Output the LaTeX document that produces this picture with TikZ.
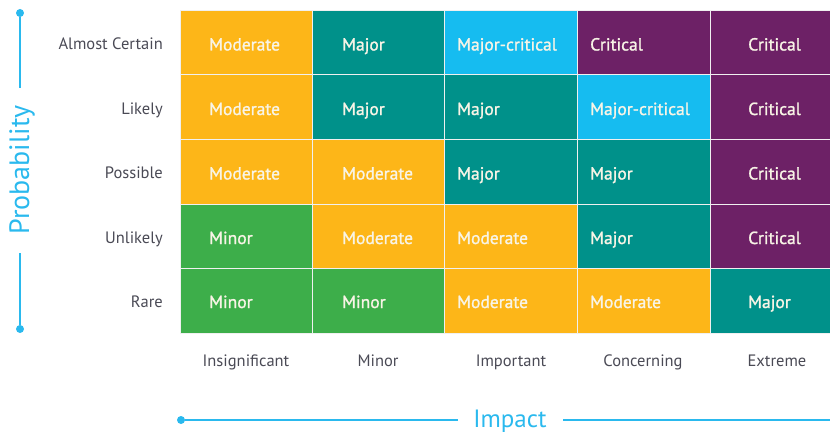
\documentclass[tikz,border=0pt]{standalone}
\usepackage{fontspec}
\setmainfont{PT Sans}
\newfontfamily\cellfont[FakeBold=1.3]{PT Sans}
\definecolor{corange}{HTML}{FDB618}
\definecolor{cteal}{HTML}{00918A}
\definecolor{ccyan}{HTML}{16BCF0}
\definecolor{cpurple}{HTML}{6D2166}
\definecolor{cgreen}{HTML}{3DAE4A}
\definecolor{caxis}{HTML}{2AB9EE}
\definecolor{clabel}{HTML}{4A4A55}
\definecolor{ctext}{HTML}{F8F4E6}
\tikzset{
  cell/.style={draw=white!88!gray, line width=1pt, minimum width=#1, minimum height=64.5pt, inner sep=0pt, anchor=north west},
  celltxt/.style={anchor=base west, inner sep=0pt, text=ctext, font=\cellfont\fontsize{17.5}{20}\selectfont},
  rowlab/.style={anchor=base east, inner sep=0pt, text=clabel, font=\fontsize{16.5}{20}\selectfont},
  collab/.style={anchor=base, inner sep=0pt, text=clabel, font=\fontsize{16.5}{20}\selectfont},
  axlab/.style={inner sep=0pt, text=caxis},
  axline/.style={draw=caxis, line width=2pt},
  axdot/.style={circle, fill=caxis, inner sep=0pt, minimum size=8pt}
}
\begin{document}
\begin{tikzpicture}[x=1pt,y=-1pt]
\useasboundingbox (0,0) rectangle (830,436);
\clip (0,0) rectangle (830,436);
% row 1
\node[cell=132pt, fill=corange] (c11) at (180,10) {};
\node[cell=132pt, fill=cteal]   (c12) at (312,10) {};
\node[cell=133pt, fill=ccyan]   (c13) at (444,10) {};
\node[cell=133pt, fill=cpurple] (c14) at (577,10) {};
\node[cell=133pt, fill=cpurple] (c15) at (710,10) {};
% row 2
\node[cell=132pt, fill=corange] (c21) at (180,74.5) {};
\node[cell=132pt, fill=cteal]   (c22) at (312,74.5) {};
\node[cell=133pt, fill=cteal]   (c23) at (444,74.5) {};
\node[cell=133pt, fill=ccyan]   (c24) at (577,74.5) {};
\node[cell=133pt, fill=cpurple] (c25) at (710,74.5) {};
% row 3
\node[cell=132pt, fill=corange] (c31) at (180,139) {};
\node[cell=132pt, fill=corange] (c32) at (312,139) {};
\node[cell=133pt, fill=cteal]   (c33) at (444,139) {};
\node[cell=133pt, fill=cteal]   (c34) at (577,139) {};
\node[cell=133pt, fill=cpurple] (c35) at (710,139) {};
% row 4
\node[cell=132pt, fill=cgreen]  (c41) at (180,203.5) {};
\node[cell=132pt, fill=corange] (c42) at (312,203.5) {};
\node[cell=133pt, fill=corange] (c43) at (444,203.5) {};
\node[cell=133pt, fill=cteal]   (c44) at (577,203.5) {};
\node[cell=133pt, fill=cpurple] (c45) at (710,203.5) {};
% row 5
\node[cell=132pt, fill=cgreen]  (c51) at (180,268) {};
\node[cell=132pt, fill=cgreen]  (c52) at (312,268) {};
\node[cell=133pt, fill=corange] (c53) at (444,268) {};
\node[cell=133pt, fill=corange] (c54) at (577,268) {};
\node[cell=133pt, fill=cteal]   (c55) at (710,268) {};
% cell texts
\node[celltxt] (t11) at (209,50.5) {Moderate};
\node[celltxt] (t12) at (342,50.5) {Major};
\node[celltxt] (t13) at (457,50.5) {Major-critical};
\node[celltxt] (t14) at (590,50.5) {Critical};
\node[celltxt] (t15) at (748,50.5) {Critical};
\node[celltxt] (t21) at (209,115) {Moderate};
\node[celltxt] (t22) at (342,115) {Major};
\node[celltxt] (t23) at (457,115) {Major};
\node[celltxt] (t24) at (590,115) {Major-critical};
\node[celltxt] (t25) at (748,115) {Critical};
\node[celltxt] (t31) at (209,179.5) {Moderate};
\node[celltxt] (t32) at (342,179.5) {Moderate};
\node[celltxt] (t33) at (457,179.5) {Major};
\node[celltxt] (t34) at (590,179.5) {Major};
\node[celltxt] (t35) at (748,179.5) {Critical};
\node[celltxt] (t41) at (209,244) {Minor};
\node[celltxt] (t42) at (342,244) {Moderate};
\node[celltxt] (t43) at (457,244) {Moderate};
\node[celltxt] (t44) at (590,244) {Major};
\node[celltxt] (t45) at (748,244) {Critical};
\node[celltxt] (t51) at (209,308) {Minor};
\node[celltxt] (t52) at (342,308) {Minor};
\node[celltxt] (t53) at (457,308) {Moderate};
\node[celltxt] (t54) at (590,308) {Moderate};
\node[celltxt] (t55) at (748,308) {Major};
% row labels
\node[rowlab] (r1) at (163,49.5) {Almost Certain};
\node[rowlab] (r2) at (163,114) {Likely};
\node[rowlab] (r3) at (163,178.5) {Possible};
\node[rowlab] (r4) at (163,243) {Unlikely};
\node[rowlab] (r5) at (163,307) {Rare};
% column labels
\node[collab] (k1) at (246,366) {Insignificant};
\node[collab] (k2) at (378,366) {Minor};
\node[collab] (k3) at (511,366) {Important};
\node[collab] (k4) at (643,366) {Concerning};
\node[collab] (k5) at (777,366) {Extreme};
% probability axis
\node[axlab, rotate=90, font=\fontsize{28}{32}\selectfont] (prob) at (22,170) {Probability};
\node[axdot] (pd1) at (20,13) {};
\node[axdot] (pd2) at (20,329) {};
\coordinate (pa1) at (20,88);
\coordinate (pa2) at (20,253);
\draw[axline] (pd1) -- (pa1);
\draw[axline] (pa2) -- (pd2);
% impact axis
\node[axlab, font=\fontsize{25}{28}\selectfont] (imp) at (510,421) {Impact};
\node[axdot] (id1) at (181,420) {};
\coordinate (ia1) at (458,420);
\coordinate (ia2) at (563,420);
\coordinate (ia3) at (830,420);
\draw[axline] (id1) -- (ia1);
\draw[axline] (ia2) -- (ia3);
\end{tikzpicture}
\end{document}
